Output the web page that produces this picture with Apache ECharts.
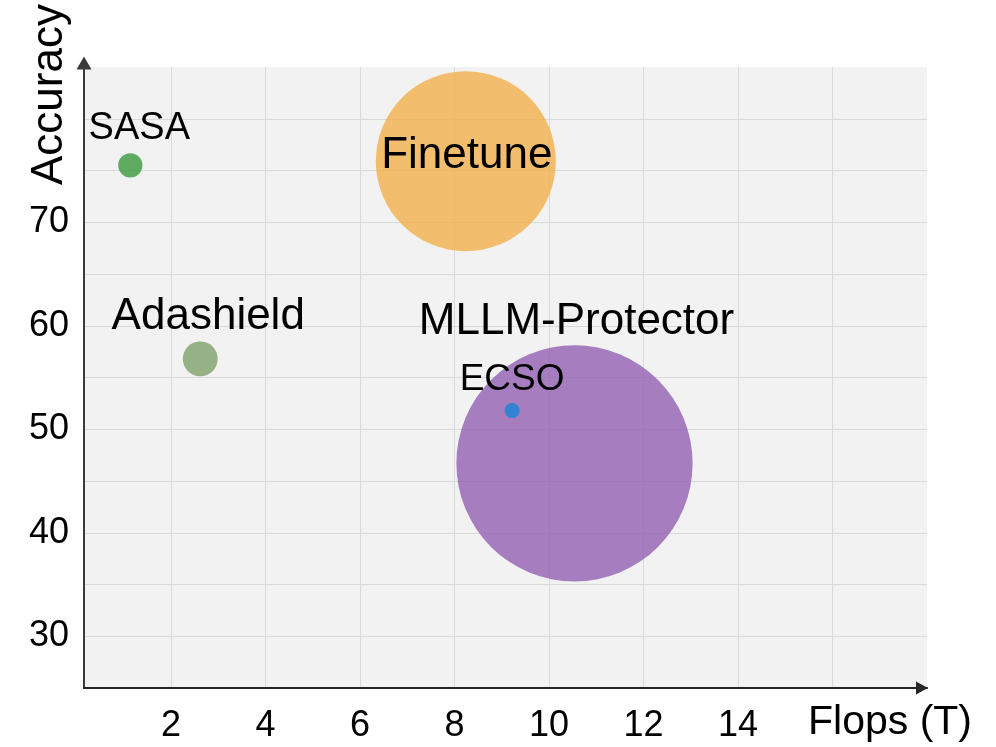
<!DOCTYPE html>
<html><head><meta charset="utf-8">
<script src="https://cdn.jsdelivr.net/npm/echarts@6/dist/echarts.min.js"></script>
<style>html,body{margin:0;padding:0;background:#fff}#c{width:996px;height:747px}</style>
</head><body><div id="c"></div>
<script>
// ---- data ----
const methods = ['SASA', 'Adashield', 'Finetune', 'MLLM-Protector', 'ECSO'];
const flops = [1.14, 2.62, 8.24, 10.54, 9.22];
const accuracy = [75.5, 56.8, 75.9, 46.7, 51.8];
const bubbleSize = [2.6, 5.4, 144, 248, 1];
const xTickLabels = [2, 4, 6, 8, 10, 12, 14];
const yTickLabels = [30, 40, 50, 60, 70];

// ---- styles ----
const colors = ['rgba(58,152,58,0.8)', 'rgba(125,160,105,0.8)', 'rgba(241,176,75,0.8)', 'rgba(146,95,178,0.8)', 'rgba(21,133,215,0.8)'];
const labelOffsets = [[9, -37], [8, -42], [1, -5], [2, -142], [0, -31]];
const labelSizes = [38, 44, 44, 44, 37];
const FONT = 'Liberation Sans';

const order = methods.map((m, i) => i).sort((a, b) => bubbleSize[b] - bubbleSize[a]);
const series = order.map((i, k) => ({
  type: 'scatter',
  name: methods[i],
  z: 2 + k,
  data: [[flops[i], accuracy[i], bubbleSize[i]]],
  symbolSize: d => 15 * Math.sqrt(d[2]),
  itemStyle: { color: colors[i], opacity: 1 },
  emphasis: { disabled: true },
  label: {
    show: true,
    position: 'inside',
    offset: labelOffsets[i],
    formatter: methods[i],
    color: '#000',
    fontSize: labelSizes[i],
    fontFamily: FONT
  }
}));

const chart = echarts.init(document.getElementById('c'), null, { renderer: 'canvas' });
chart.setOption({
  animation: false,
  backgroundColor: '#ffffff',
  textStyle: { fontFamily: FONT },
  grid: { left: 84, right: 69, top: 67, bottom: 59, show: true, backgroundColor: '#f2f2f2', borderWidth: 0, containLabel: false, outerBoundsMode: 'none' },
  xAxis: {
    type: 'value', min: 0.16, max: 18, splitNumber: 9,
    axisLine: { show: true, onZero: false, symbol: ['none', 'triangle'], symbolSize: [13, 12], symbolOffset: [0, -5], lineStyle: { color: '#262626', width: 2 } },
    axisTick: { show: false },
    axisLabel: {
      formatter: v => { const r = Math.round(v * 1000) / 1000; return xTickLabels.indexOf(r) >= 0 ? String(r) : ''; },
      fontSize: 36, color: '#000', margin: 20, fontFamily: FONT
    },
    splitLine: { show: true, showMinLine: false, showMaxLine: false, lineStyle: { color: '#d9d9d9', width: 1 } },
    name: 'Flops (T)', nameLocation: 'end', nameGap: -119, nameMoveOverlap: false,
    nameTextStyle: { fontSize: 41, color: '#000', align: 'left', verticalAlign: 'top', padding: [14, 0, 0, 0], fontFamily: FONT }
  },
  yAxis: {
    type: 'value', min: 25, max: 85, interval: 5,
    axisLine: { show: true, onZero: false, symbol: ['none', 'triangle'], symbolSize: [15, 13], symbolOffset: [0, 4], lineStyle: { color: '#3a3a3a', width: 2 } },
    axisTick: { show: false },
    axisLabel: {
      formatter: v => yTickLabels.indexOf(v) >= 0 ? String(v) : '',
      fontSize: 36, color: '#000', margin: 15, fontFamily: FONT
    },
    splitLine: { show: true, showMinLine: false, showMaxLine: false, lineStyle: { color: '#d9d9d9', width: 1 } },
    name: 'Accuracy', nameLocation: 'end', nameGap: -118, nameRotate: 90, nameMoveOverlap: false,
    nameTextStyle: { fontSize: 44, color: '#000', align: 'left', verticalAlign: 'bottom', padding: [0, 0, 12, 0], fontFamily: FONT }
  },
  series: series
});
</script>
</body></html>
